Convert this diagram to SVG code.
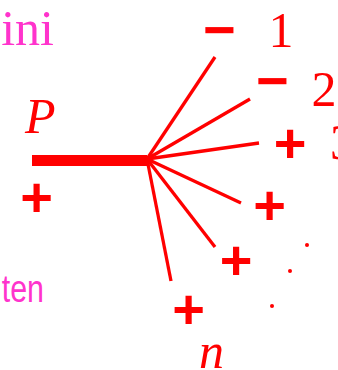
<svg xmlns="http://www.w3.org/2000/svg" width="338" height="370" viewBox="0 0 338 370">
<style>
.ln{stroke:#FF0000;stroke-width:3.3;stroke-linecap:butt;fill:none}
.sg{font-family:"Liberation Sans",Arial,sans-serif;font-weight:bold;font-size:56px;fill:#FF0000;text-anchor:middle}
.num{font-family:"Liberation Serif","Times New Roman",serif;font-size:50px;fill:#FF0000;text-anchor:middle}
.it{font-family:"Liberation Serif","Times New Roman",serif;font-style:italic;font-size:50px;fill:#FF0000}
.mg{fill:#FF33CC}
</style>
<rect width="338" height="370" fill="#FFFFFF"/>
<g id="labels">
<text class="mg" x="54" y="45" font-family="Liberation Serif,'Times New Roman',serif" font-size="50" text-anchor="end">ini</text>
<text class="mg" transform="translate(0,302) scale(0.8,1)" x="55" y="0" font-family="Liberation Sans,Arial,sans-serif" font-size="38" text-anchor="end">ten</text>
</g>
<g id="connectors">
<line x1="32" y1="160.5" x2="147" y2="160.5" stroke="#FF0000" stroke-width="11"/>
<line class="ln" x1="147" y1="159" x2="215" y2="57"/>
<line class="ln" x1="147" y1="159" x2="250" y2="99"/>
<line class="ln" x1="147" y1="159" x2="259" y2="143"/>
<line class="ln" x1="147" y1="159" x2="241" y2="203"/>
<line class="ln" x1="147" y1="159" x2="215" y2="247"/>
<line class="ln" x1="147" y1="159" x2="171" y2="281"/>
</g>
<g id="node-P">
<text class="it" x="25" y="133">P</text>
<text class="sg" x="36.5" y="216">+</text>
</g>
<g id="node-1">
<text class="sg" x="219.5" y="49">−</text>
<text class="num" x="281" y="47">1</text>
</g>
<g id="node-2">
<text class="sg" x="272.5" y="100">−</text>
<text class="num" x="324" y="106">2</text>
</g>
<g id="node-3">
<text class="sg" x="290" y="162">+</text>
<text class="num" x="342.5" y="159">3</text>
</g>
<g id="node-4">
<text class="sg" x="269.5" y="223.5">+</text>
</g>
<g id="node-5">
<text class="sg" x="236" y="279">+</text>
</g>
<g id="node-n">
<text class="sg" x="188.5" y="328">+</text>
<text class="it" x="199" y="368">n</text>
</g>
<g id="dots" fill="#FF0000">
<circle cx="307" cy="245" r="2"/>
<circle cx="290" cy="271" r="2"/>
<circle cx="272" cy="306" r="2"/>
</g>
</svg>
